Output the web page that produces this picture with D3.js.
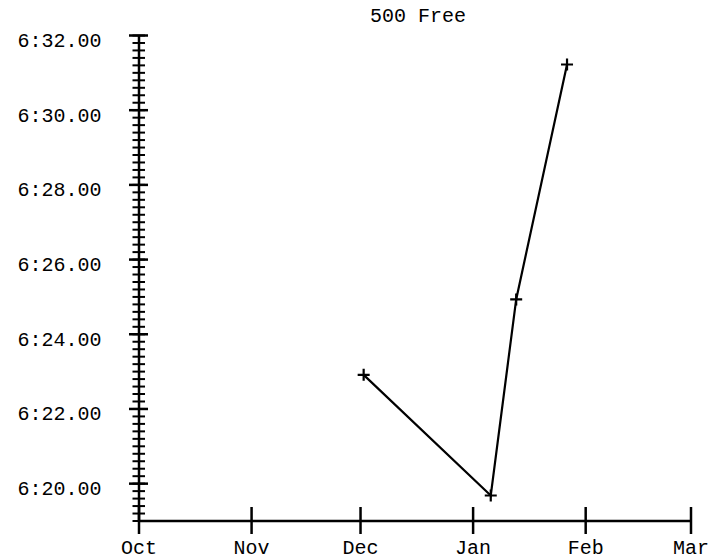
<!DOCTYPE html>
<html><head><meta charset="utf-8">
<script src="https://cdn.jsdelivr.net/npm/d3@7"></script>
<style>body{margin:0;background:#fff}svg{display:block}</style></head>
<body><svg id="c" width="727" height="559"></svg>
<script>
const title = "500 Free";
const swimDates = ["2011-12-02", "2012-01-06", "2012-01-13", "2012-01-27"];
const swimTimes = ["6:22.90", "6:19.67", "6:24.92", "6:31.21"];
const monthTicks = ["2011-10-01", "2011-11-01", "2011-12-01", "2012-01-01", "2012-02-01", "2012-03-01"];
const monthLabels = ["Oct", "Nov", "Dec", "Jan", "Feb", "Mar"];
const yMajorLabels = ["6:20.00", "6:22.00", "6:24.00", "6:26.00", "6:28.00", "6:30.00", "6:32.00"];
const yDomain = ["6:19.00", "6:32.00"];
const yMinorStep = 0.2;

const toSec = s => { const [m, r] = s.split(":"); return (+m) * 60 + (+r); };
const parse = d3.utcParse("%Y-%m-%d");

const data = swimDates.map((d, i) => ({ date: parse(d), t: toSec(swimTimes[i]) }));
const months = monthTicks.map(parse);

const svg = d3.select("#c");
const FONT = "'Liberation Mono', 'Courier New', monospace";

const x = d3.scaleUtc().domain([months[0], months[months.length - 1]]).range([138.5, 690.5]);
const y = d3.scaleLinear().domain(yDomain.map(toSec)).range([520.5, 35]);

// title
svg.append("text").attr("x", 418).attr("y", 22).attr("text-anchor", "middle")
  .style("font-family", FONT).style("font-size", "20px").text(title);

// y axis minor ticks
const [y0, y1] = y.domain();
const nMinor = Math.round((y1 - y0) / yMinorStep);
const minorVals = d3.range(nMinor + 1).map(i => +(y0 + i * yMinorStep).toFixed(2));
const majorVals = yMajorLabels.map(toSec);

const yAxisMinor = svg.append("g").attr("transform", `translate(${x.range()[0]},0)`)
  .call(d3.axisLeft(y).tickValues(minorVals).tickFormat("").tickSizeOuter(0));
yAxisMinor.select(".domain").attr("stroke", "#000").attr("stroke-width", 2.5);
yAxisMinor.selectAll(".tick line").attr("x1", -6).attr("x2", 6.5).attr("stroke", "#000").attr("stroke-width", 2);

const yAxisMajor = svg.append("g").attr("transform", `translate(${x.range()[0]},0)`)
  .call(d3.axisLeft(y).tickValues(majorVals).tickFormat((d, i) => yMajorLabels[i]).tickSizeOuter(0));
yAxisMajor.select(".domain").remove();
yAxisMajor.selectAll(".tick line").attr("x1", -9.5).attr("x2", 9.5).attr("stroke", "#000").attr("stroke-width", 2.5);
yAxisMajor.selectAll(".tick text").attr("x", -37).attr("y", 11.5).attr("dy", null)
  .attr("text-anchor", "end").attr("fill", "#000")
  .style("font-family", FONT).style("font-size", "20px");

// x axis
const xAxis = svg.append("g").attr("transform", `translate(0,${y.range()[0]})`)
  .call(d3.axisBottom(x).tickValues(months).tickFormat((d, i) => monthLabels[i]).tickSizeOuter(0));
xAxis.select(".domain").attr("stroke", "#000").attr("stroke-width", 2.5);
xAxis.selectAll(".tick line").attr("y1", -13.5).attr("y2", 13.5).attr("stroke", "#000").attr("stroke-width", 2.5);
xAxis.selectAll(".tick text").attr("y", 33.5).attr("dy", null).attr("fill", "#000")
  .style("font-family", FONT).style("font-size", "20px");

// line
svg.append("path").datum(data)
  .attr("fill", "none").attr("stroke", "#000").attr("stroke-width", 2.2)
  .attr("d", d3.line().x(d => x(d.date)).y(d => y(d.t)));

// markers
svg.append("g").selectAll("path").data(data).join("path")
  .attr("d", d => { const cx = x(d.date), cy = y(d.t); return `M${cx - 6},${cy}H${cx + 6}M${cx},${cy - 6}V${cy + 6}`; })
  .attr("stroke", "#000").attr("stroke-width", 2.2).attr("fill", "none");
</script>
</body></html>
